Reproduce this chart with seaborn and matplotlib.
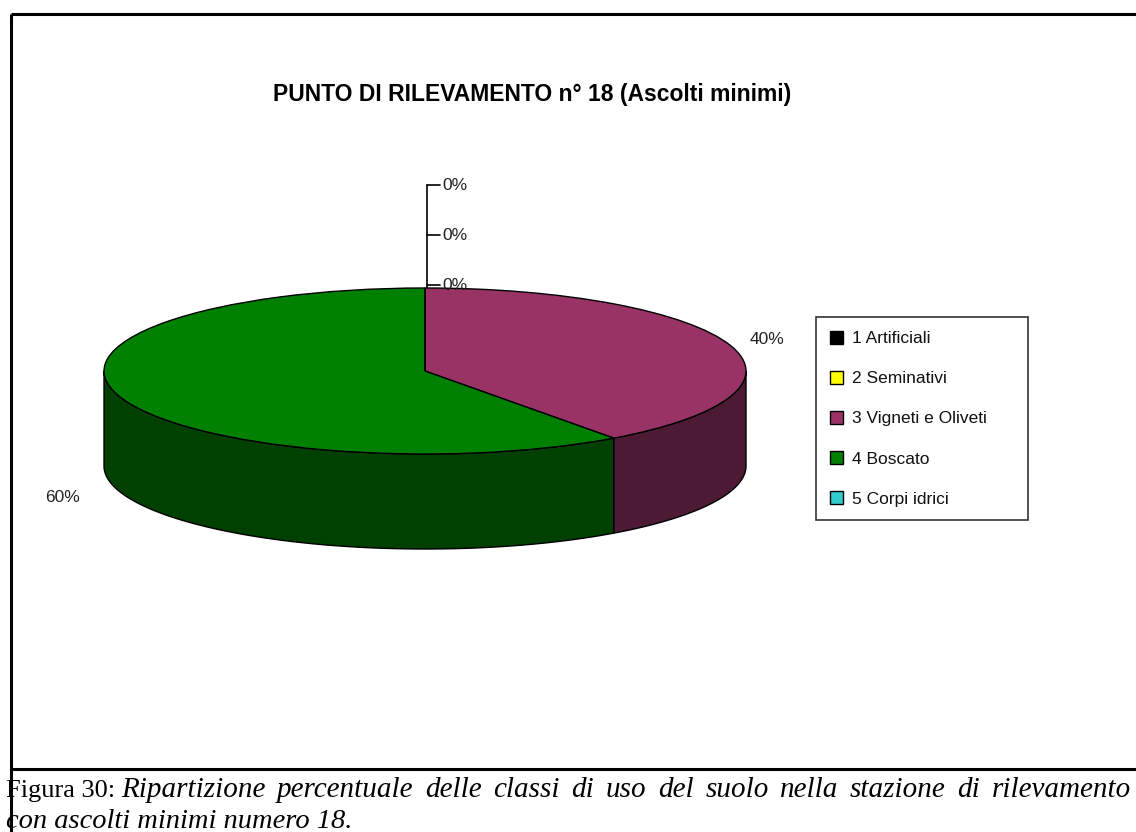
import numpy as np
import matplotlib
matplotlib.use("Agg")
import matplotlib.pyplot as plt
from matplotlib.patches import Polygon
import seaborn as sns

# ---------------- data ----------------
categories = ["1 Artificiali", "2 Seminativi", "3 Vigneti e Oliveti", "4 Boscato", "5 Corpi idrici"]
values = [0, 0, 40, 60, 0]
top_colors = ["#000000", "#FFFF00", "#993366", "#008000", "#33CCCC"]
title = "PUNTO DI RILEVAMENTO n° 18 (Ascolti minimi)"
caption_head = "Figura 30:"
caption_line1 = "Ripartizione percentuale delle classi di uso del suolo nella stazione di rilevamento"
caption_line2 = "con ascolti minimi numero 18."

sns.set_theme(style="white")
plt.rcParams["font.family"] = ["Liberation Sans", "DejaVu Sans"]
plt.rcParams["text.color"] = "black"

W, H = 1136, 832
fig = plt.figure(figsize=(W / 100, H / 100), dpi=100)
fig.patch.set_facecolor("white")

# pie geometry in pixels
cx, cy, rx, ry, depth_px = 425, 371, 321, 83, 95
depth = depth_px / ry

ax = fig.add_axes([0, 0, 1, 1])
palette = sns.color_palette(top_colors)
wedges, _ = ax.pie(values, colors=palette, startangle=90, counterclock=False,
                   radius=1, center=(0, 0), frame=True,
                   wedgeprops=dict(edgecolor="black", linewidth=1.0, zorder=3))
ax.set_aspect("auto")
ax.set_xlim((0 - cx) / rx, (W - cx) / rx)
ax.set_ylim((cy - H) / ry, cy / ry)
ax.axis("off")

# side walls (front half only)
for w, col in zip(wedges, palette):
    t1, t2 = w.theta1, w.theta2
    if t2 - t1 <= 0:
        continue
    side = tuple(c * 0.5 for c in col)
    for k in (-1, 0, 1):
        lo = max(t1, -180 + 360 * k)
        hi = min(t2, 360 * k)
        if hi <= lo:
            continue
        t = np.radians(np.linspace(lo, hi, 200))
        top = np.column_stack([np.cos(t), np.sin(t)])
        bot = np.column_stack([np.cos(t[::-1]), np.sin(t[::-1]) - depth])
        poly = Polygon(np.vstack([top, bot]), closed=True, facecolor=side,
                       edgecolor="black", linewidth=1.0, zorder=2)
        ax.add_patch(poly)

# overlay axes in pixel coordinates
ov = fig.add_axes([0, 0, 1, 1], zorder=5)
ov.set_xlim(0, W)
ov.set_ylim(H, 0)
ov.axis("off")
ov.patch.set_alpha(0)

# frame lines
ov.plot([11, W], [14, 14], color="black", lw=2.2, solid_capstyle="butt")
ov.plot([11, 11], [14, H], color="black", lw=2.2, solid_capstyle="butt")
ov.plot([11, W], [769, 769], color="black", lw=2.2, solid_capstyle="butt")

# title
ov.text(532, 94, title, ha="center", va="center", fontsize=16.5, fontweight="bold",
        color="black")

# zero labels with leader lines
zero_idx = [i for i, v in enumerate(values) if v == 0]
ov.plot([427, 427], [288, 185], color="black", lw=1.2)
for j, i in enumerate(zero_idx):
    yy = 185 + 50 * j
    ov.plot([427, 440], [yy, yy], color="black", lw=1.2)
    ov.text(442, yy, f"{values[i]}%", ha="left", va="center", fontsize=12.5,
            color="#222222")

# nonzero labels
label_pos = {2: (767, 340), 3: (62, 497)}
for i, (x, y) in label_pos.items():
    ov.text(x, y, f"{values[i]}%", ha="center", va="center", fontsize=12.5,
            color="#222222")

# legend
leg = fig.legend(wedges, categories, loc="upper left", mode="expand",
                 bbox_to_anchor=(816 / W, 1 - 518 / H, 212 / W, 201 / H),
                 borderaxespad=0,
                 fontsize=12.5, frameon=True, fancybox=False, shadow=False,
                 handlelength=0.75, handleheight=0.75, handletextpad=0.5,
                 labelspacing=1.42, borderpad=0.8)
leg.get_frame().set_edgecolor("black")
leg.get_frame().set_linewidth(1.2)
for txt in leg.get_texts():
    txt.set_color("#111111")

# caption (first line justified to the right edge)
serif = ["Liberation Serif", "DejaVu Serif"]
renderer = fig.canvas.get_renderer()
head = ov.text(6, 797, caption_head, ha="left", va="baseline", fontsize=19, family=serif)
head_w = head.get_window_extent(renderer).width
words = caption_line1.split()
word_objs = [ov.text(0, 797, wd, ha="left", va="baseline", fontsize=21,
                     style="italic", family=serif) for wd in words]
widths = [o.get_window_extent(renderer).width for o in word_objs]
space_w = 6.0
start = 6 + head_w + space_w
right = 1131
gap = (right - start - sum(widths)) / (len(words) - 1)
x = start
for o, wdt in zip(word_objs, widths):
    o.set_x(x)
    x += wdt + gap
ov.text(6, 828, caption_line2, ha="left", va="baseline", fontsize=20.5,
        style="italic", family=serif)

fig.savefig("out.png", dpi=100, facecolor="white")
